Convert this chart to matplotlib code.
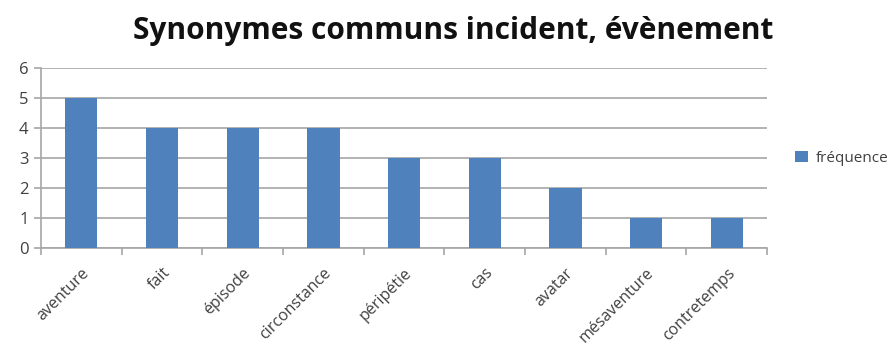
import matplotlib.pyplot as plt
import numpy as np

mots = ["aventure", "fait", "épisode", "circonstance", "péripétie",
        "cas", "avatar", "mésaventure", "contretemps"]
frequence = [5, 4, 4, 4, 3, 3, 2, 1, 1]

plt.rcParams["font.family"] = ["Open Sans", "DejaVu Sans"]

fig = plt.figure(figsize=(8.90, 3.51), dpi=100)
ax = fig.add_axes([0.046, 0.293, 0.816, 0.513])

x = np.arange(len(mots))
ax.bar(x, frequence, width=0.4, color="#4F81BD", label="fréquence", zorder=3)

ax.set_xlim(-0.5, len(mots) - 0.5)
ax.set_ylim(0, 6)
ax.set_yticks(range(0, 7))
ax.yaxis.grid(True, color="#a6a6a6", linewidth=1.2, zorder=0)

# ticks between the categories, labels under each bar
ax.set_xticks(np.arange(-0.5, len(mots)), minor=False)
ax.set_xticklabels([])
ax.set_xticks(x, minor=True)
ax.set_xticklabels(mots, minor=True, rotation=45, ha="right", va="top",
                   rotation_mode="anchor", fontsize=11.5, color="#404040")
ax.tick_params(axis="x", which="major", length=5, color="#a6a6a6", width=1.2)
ax.tick_params(axis="x", which="minor", length=0, pad=12)
ax.tick_params(axis="y", length=5, color="#a6a6a6", width=1.2,
               labelsize=12, labelcolor="#404040", pad=4)

for side in ["top", "right"]:
    ax.spines[side].set_visible(False)
for side in ["left", "bottom"]:
    ax.spines[side].set_color("#a6a6a6")
    ax.spines[side].set_linewidth(1.2)

fig.text(0.509, 0.912, "Synonymes communs incident, évènement",
         ha="center", va="center", fontsize=21.5, fontweight="bold", color="#111111")

ax.legend(loc="center left", bbox_to_anchor=(1.02, 0.5), frameon=False,
          fontsize=11, handlelength=0.8, handleheight=0.8, handletextpad=0.5,
          labelcolor="#404040")

fig.savefig("out.png", dpi=100)
